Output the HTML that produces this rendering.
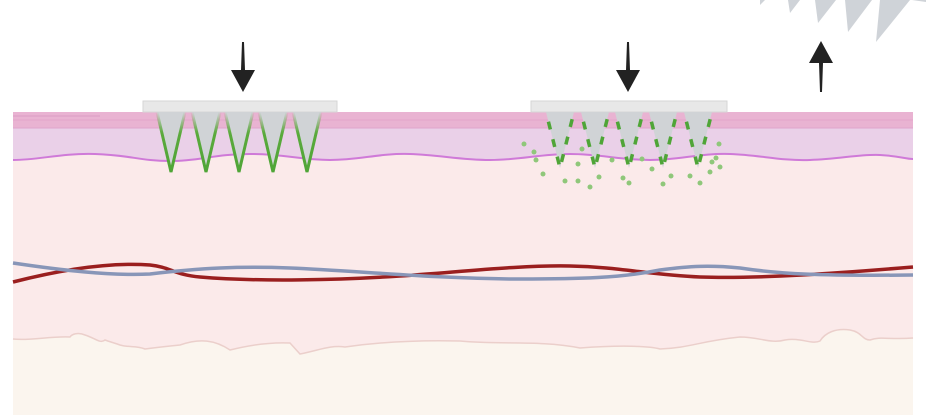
<!DOCTYPE html>
<html><head><meta charset="utf-8"><style>html,body{margin:0;padding:0;background:#fff}svg{display:block}</style></head>
<body>
<svg width="926" height="415" viewBox="0 0 926 415" xmlns="http://www.w3.org/2000/svg">
<defs>
<linearGradient id="g" x1="0" y1="0" x2="0" y2="1">
<stop offset="0" stop-color="#5aaa3c" stop-opacity="0"/>
<stop offset="0.35" stop-color="#5aaa3c" stop-opacity="1"/>
<stop offset="1" stop-color="#4fa537"/>
</linearGradient>
</defs>
<rect x="13" y="112" width="900" height="303" fill="#fbeaea"/>
<path d="M13 160 C40 160 60 153 95 154 C130 155 140 161 170 161 C200 161 215 154 250 154 C285 154 300 160 330 160 C360 160 380 153 410 154 C440 155 460 160 490 160 C520 160 540 154 570 154 C600 154 620 160 650 160 C680 160 700 153 730 154 C760 155 780 161 810 160 C840 159 860 154 880 155 C900 156 905 159 913 159 L913 112 L13 112 Z" fill="#ead0e8" stroke="none"/>
<path d="M13 160 C40 160 60 153 95 154 C130 155 140 161 170 161 C200 161 215 154 250 154 C285 154 300 160 330 160 C360 160 380 153 410 154 C440 155 460 160 490 160 C520 160 540 154 570 154 C600 154 620 160 650 160 C680 160 700 153 730 154 C760 155 780 161 810 160 C840 159 860 154 880 155 C900 156 905 159 913 159" fill="none" stroke="#cf7ad8" stroke-width="2"/>
<rect x="13" y="112" width="900" height="16" fill="#e9b3d2"/>
<line x1="13" y1="116" x2="100" y2="116" stroke="#dc9cc4" stroke-width="1"/>
<line x1="13" y1="120" x2="913" y2="120" stroke="#e3a6cb" stroke-width="1"/>
<line x1="13" y1="128" x2="913" y2="128" stroke="#e0a4cc" stroke-width="1"/>
<path d="M13 339 C30 341 50 336 70 337 C72 334 78 332 85 335 C95 338 100 344 105 340 C110 342 115 343 120 345 C130 348 135 345 145 349 C160 347 170 346 180 345 C200 338 215 340 230 350 C250 345 270 342 290 343 L300 354 C320 350 330 345 345 347 C380 342 420 340 460 341 C500 345 540 340 580 348 C620 345 650 346 660 349 C690 348 700 341 740 337 C760 337 770 344 785 340 C800 337 812 345 820 341 C825 333 835 328 850 330 C862 332 862 340 870 340 C880 336 890 340 913 338 L913 415 L13 415 Z" fill="#fbf5ee" stroke="none"/>
<path d="M13 339 C30 341 50 336 70 337 C72 334 78 332 85 335 C95 338 100 344 105 340 C110 342 115 343 120 345 C130 348 135 345 145 349 C160 347 170 346 180 345 C200 338 215 340 230 350 C250 345 270 342 290 343 L300 354 C320 350 330 345 345 347 C380 342 420 340 460 341 C500 345 540 340 580 348 C620 345 650 346 660 349 C690 348 700 341 740 337 C760 337 770 344 785 340 C800 337 812 345 820 341 C825 333 835 328 850 330 C862 332 862 340 870 340 C880 336 890 340 913 338" fill="none" stroke="#ebcfcb" stroke-width="1.5"/>
<path d="M13 282 C60 270 110 262 150 265 C170 267 175 275 200 277 C260 282 340 280 400 276 C460 272 520 265 570 266 C620 267 650 275 700 277 C760 279 840 273 913 267" fill="none" stroke="#9a1f1f" stroke-width="3.5"/>
<path d="M13 263 C60 270 110 276 150 274 C200 268 240 266 290 268 C360 271 440 279 520 279 C580 279 620 278 660 270 C690 266 710 265 740 268 C780 274 820 276 913 275" fill="none" stroke="#8896b8" stroke-width="3.5"/>
<rect x="143" y="101" width="194" height="11" fill="#e8e8e8" stroke="#d6d6d6" stroke-width="1"/>
<g fill="#d0d3d6" stroke="url(#g)" stroke-width="3">
<path d="M157 112 L171 172 L185 112"/>
<path d="M192 112 L206 172 L220 112"/>
<path d="M225 112 L239 172 L253 112"/>
<path d="M259 112 L273 172 L287 112"/>
<path d="M293 112 L307 172 L321 112"/>
</g>
<rect x="531" y="101" width="196" height="11" fill="#e8e8e8" stroke="#d6d6d6" stroke-width="1"/>
<g fill="#d0d3d6" stroke="#4fa537" stroke-width="3.5" stroke-dasharray="8,10" stroke-dashoffset="-10">
<path d="M546 112 L560 168 L574 112"/>
<path d="M581 112 L595 168 L609 112"/>
<path d="M615 112 L629 168 L643 112"/>
<path d="M649 112 L663 168 L677 112"/>
<path d="M684 112 L698 168 L712 112"/>
</g>
<g fill="#8fc77a">
<circle cx="524" cy="144" r="2.5"/><circle cx="534" cy="152" r="2.5"/><circle cx="536" cy="160" r="2.5"/><circle cx="543" cy="174" r="2.5"/><circle cx="565" cy="181" r="2.5"/><circle cx="578" cy="181" r="2.5"/><circle cx="582" cy="149" r="2.5"/><circle cx="578" cy="164" r="2.5"/><circle cx="590" cy="187" r="2.5"/><circle cx="599" cy="177" r="2.5"/><circle cx="612" cy="160" r="2.5"/><circle cx="623" cy="178" r="2.5"/><circle cx="629" cy="183" r="2.5"/><circle cx="652" cy="169" r="2.5"/><circle cx="671" cy="176" r="2.5"/><circle cx="663" cy="184" r="2.5"/><circle cx="690" cy="176" r="2.5"/><circle cx="700" cy="183" r="2.5"/><circle cx="710" cy="172" r="2.5"/><circle cx="716" cy="158" r="2.5"/><circle cx="720" cy="167" r="2.5"/><circle cx="719" cy="144" r="2.5"/><circle cx="712" cy="162" r="2.5"/><circle cx="642" cy="159" r="2.5"/>
</g>
<g fill="#cfd3d8">
<path d="M760 0 L765 0 L760 5 Z"/>
<path d="M788 0 L800 0 L790 13 Z"/>
<path d="M815 0 L836 0 L818 23 Z"/>
<path d="M845 0 L872 0 L848 32 Z"/>
<path d="M880 0 L910 0 L876 42 Z"/>
<path d="M912 0 L926 0 L926 2 Z"/>
</g>
<g fill="#222">
<path d="M242 42 L244 42 L245 70 L255 70 L243 92 L231 70 L241 70 Z"/>
<path d="M627 42 L629 42 L630 70 L640 70 L628 92 L616 70 L626 70 Z"/>
<path d="M821 41 L833 63 L823 63 L822 92 L820 92 L819 63 L809 63 Z"/>
</g>
</svg>
</body></html>
